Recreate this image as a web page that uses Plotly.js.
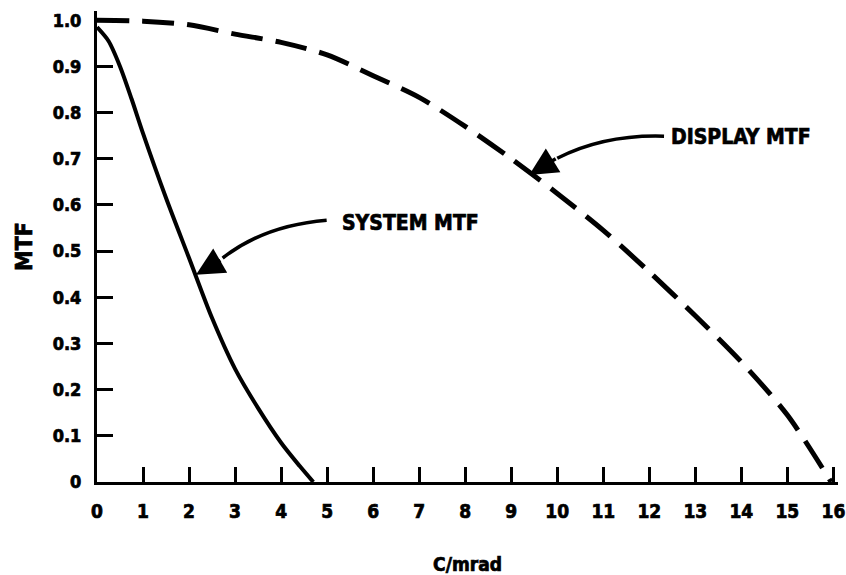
<!DOCTYPE html>
<html>
<head>
<meta charset="utf-8">
<script src="https://cdn.plot.ly/plotly-3.0.1.min.js"></script>
<style>
  html, body { margin: 0; padding: 0; background: #ffffff; }
  #chart { width: 846px; height: 575px; }
  /* heavy lettering for all chart text */
  #chart svg text { stroke: #000; stroke-width: 0.7px; }
</style>
</head>
<body>
<div id="chart"></div>
<script>
// Spatial frequency (cycles/mrad) against modulation transfer
const systemFreq = [0, 0.25, 0.5, 0.75, 1, 1.5, 2, 2.5, 3, 3.5, 4, 4.4, 4.7];
const systemMtf  = [0.985, 0.955, 0.9, 0.83, 0.755, 0.615, 0.485, 0.355, 0.245, 0.16, 0.085, 0.035, 0];

const displayFreq = [0, 1, 2, 3, 4, 5, 6, 7, 8, 9, 10, 11, 12, 13, 14, 15, 15.95];
const displayMtf  = [1.0, 0.998, 0.99, 0.97, 0.952, 0.925, 0.88, 0.833, 0.77, 0.70, 0.625, 0.545, 0.455, 0.36, 0.26, 0.145, 0];

const xTicks = [0, 1, 2, 3, 4, 5, 6, 7, 8, 9, 10, 11, 12, 13, 14, 15, 16];
const yTicks = [0, 0.1, 0.2, 0.3, 0.4, 0.5, 0.6, 0.7, 0.8, 0.9, 1.0];
const yTickText = ['0', '0.1', '0.2', '0.3', '0.4', '0.5', '0.6', '0.7', '0.8', '0.9', '1.0'];

const FONT = '"Liberation Sans Narrow", "DejaVu Sans Condensed", "DejaVu Sans", sans-serif';

const traces = [
  {
    x: systemFreq, y: systemMtf, type: 'scatter', mode: 'lines', name: 'SYSTEM MTF',
    line: { color: '#000', width: 4, shape: 'spline', smoothing: 0.8 },
    hoverinfo: 'skip'
  },
  {
    x: displayFreq, y: displayMtf, type: 'scatter', mode: 'lines', name: 'DISPLAY MTF',
    line: { color: '#000', width: 5, shape: 'spline', smoothing: 0.8, dash: '32px,13px' },
    hoverinfo: 'skip'
  }
];

// Curved leader lines running from each label towards its curve
const leaders = [
  { type: 'path', xref: 'x', yref: 'y',
    path: 'M 4.99 0.567 Q 3.64 0.556 2.73 0.485',
    line: { color: '#000', width: 3.5 } },
  { type: 'path', xref: 'x', yref: 'y',
    path: 'M 12.32 0.749 Q 11.02 0.753 10.0 0.701',
    line: { color: '#000', width: 3.5 } }
];

const labelFont = { family: FONT, size: 21, color: '#000', weight: 700 };

const annotations = [
  { x: 5.27, y: 0.561, xref: 'x', yref: 'y', text: 'SYSTEM MTF', showarrow: false,
    xanchor: 'left', yanchor: 'middle', font: labelFont },
  { x: 12.43, y: 0.747, xref: 'x', yref: 'y', text: 'DISPLAY MTF', showarrow: false,
    xanchor: 'left', yanchor: 'middle', font: labelFont },
  // arrow heads at the ends of the leaders
  { x: 2.15, y: 0.449, xref: 'x', yref: 'y', text: '', showarrow: true,
    ax: 26, ay: -15, arrowhead: 2, arrowsize: 1.6, arrowwidth: 3.5, arrowcolor: '#000', standoff: 0 },
  { x: 9.39, y: 0.665, xref: 'x', yref: 'y', text: '', showarrow: true,
    ax: 28, ay: -17, arrowhead: 2, arrowsize: 1.6, arrowwidth: 3.5, arrowcolor: '#000', standoff: 0 }
];

const layout = {
  width: 846, height: 575,
  paper_bgcolor: '#fff', plot_bgcolor: '#fff',
  showlegend: false,
  margin: { l: 97, r: 8, t: 11, b: 93 },
  xaxis: {
    range: [0, 16.1], tickvals: xTicks, ticktext: xTicks.map(String),
    ticks: 'inside', ticklen: 15, tickwidth: 3, tickcolor: '#000',
    showline: true, linewidth: 3, linecolor: '#000',
    showgrid: false, zeroline: false,
    tickfont: { family: FONT, size: 19, color: '#000', weight: 700 },
    ticklabelstandoff: 10, ticklabeloverflow: 'allow',
    title: { text: 'C/mrad', font: { family: FONT, size: 19, color: '#000', weight: 700 }, standoff: 42 }
  },
  yaxis: {
    range: [0, 1.02], tickvals: yTicks, ticktext: yTickText,
    ticks: 'inside', ticklen: 16, tickwidth: 3, tickcolor: '#000',
    showline: true, linewidth: 3, linecolor: '#000',
    showgrid: false, zeroline: false,
    tickfont: { family: FONT, size: 18, color: '#000', weight: 700 },
    ticklabelstandoff: 9,
    title: { text: 'MTF', font: { family: FONT, size: 23, color: '#000', weight: 700 }, standoff: 14 }
  },
  shapes: leaders,
  annotations: annotations
};

Plotly.newPlot('chart', traces, layout, { staticPlot: true, displayModeBar: false });
</script>
</body>
</html>
